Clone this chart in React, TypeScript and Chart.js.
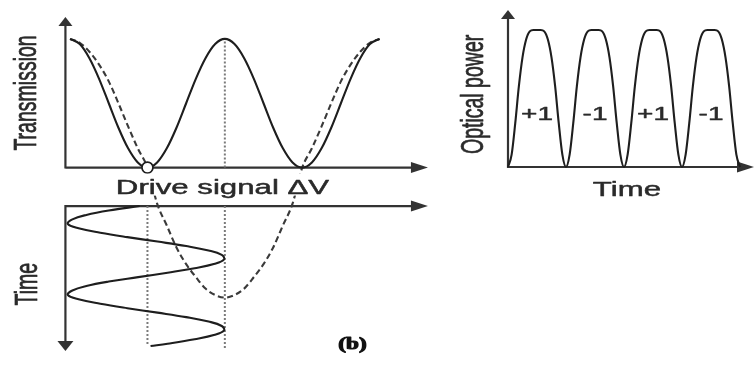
import { useEffect, useRef } from "react";
import { Chart, registerables } from "chart.js";

Chart.register(...registerables);

// ---- Modulator transfer curves versus drive signal ΔV (in units of Vπ) ----
const driveV = [
  0, 0.125, 0.25, 0.375, 0.5, 0.625, 0.75, 0.875, 1, 1.125, 1.25, 1.375, 1.5, 1.625, 1.75, 1.875, 2,
  2.125, 2.25, 2.375, 2.5, 2.625, 2.75, 2.875, 3, 3.125, 3.25, 3.375, 3.5, 3.625, 3.75, 3.875, 4,
];
// Power transmission (solid)
const transmission = [
  1, 0.96, 0.85, 0.69, 0.5, 0.31, 0.15, 0.04, 0, 0.04, 0.15, 0.31, 0.5, 0.69, 0.85, 0.96, 1,
  0.96, 0.85, 0.69, 0.5, 0.31, 0.15, 0.04, 0, 0.04, 0.15, 0.31, 0.5, 0.69, 0.85, 0.96, 1,
];
// Optical field transfer (dashed), changes sign at the transmission nulls
const fieldTransfer = [
  1, 0.97, 0.9, 0.8, 0.67, 0.5, 0.32, 0.15, 0, -0.28, -0.45, -0.62, -0.75, -0.85, -0.94, -0.99, -1.01,
  -0.99, -0.94, -0.85, -0.75, -0.62, -0.45, -0.28, 0, 0.15, 0.32, 0.5, 0.67, 0.8, 0.9, 0.97, 1,
];

// ---- Sinusoidal drive signal versus time (time in drive half-periods) ----
const driveTime = [
  0, 0.125, 0.25, 0.375, 0.5, 0.625, 0.75, 0.875, 1, 1.125, 1.25, 1.375, 1.5, 1.625, 1.75, 1.875, 2,
  2.125, 2.25, 2.375, 2.5, 2.625, 2.75, 2.875, 3, 3.125, 3.25, 3.375, 3.5, 3.625, 3.75, 3.875, 3.94,
];
const driveSwing = [
  0.9, 0.5, 0.21, 0.03, -0.03, 0.11, 0.39, 0.74, 1.13, 1.5, 1.79, 1.96, 1.99, 1.87, 1.61, 1.26, 0.88,
  0.5, 0.21, 0.03, -0.03, 0.11, 0.39, 0.74, 1.13, 1.5, 1.79, 1.96, 1.99, 1.87, 1.61, 1.26, 1.04,
];
const nullBias = 1; // bias point at the transmission null
const swingPeak = 2; // positive drive extreme
const biasGuideEnd = 3.94;
const peakGuideEnd = 4.0;

// ---- Optical power at the output (time in 1/16 bit slot) ----
const pulseTime = [
  0, 1, 2, 3, 4, 5, 6, 7, 8, 9, 10, 11, 12, 13, 14, 15,
  16, 17, 18, 19, 20, 21, 22, 23, 24, 25, 26, 27, 28, 29, 30, 31,
  32, 33, 34, 35, 36, 37, 38, 39, 40, 41, 42, 43, 44, 45, 46, 47,
  48, 49, 50, 51, 52, 53, 54, 55, 56, 57, 58, 59, 60, 61, 62, 63, 64,
];
const opticalPower = [
  0, 0.09, 0.32, 0.59, 0.8, 0.93, 0.99, 1, 1, 1, 0.99, 0.93, 0.8, 0.59, 0.32, 0.09,
  0, 0.09, 0.32, 0.59, 0.8, 0.93, 0.99, 1, 1, 1, 0.99, 0.93, 0.8, 0.59, 0.32, 0.09,
  0, 0.09, 0.32, 0.59, 0.8, 0.93, 0.99, 1, 1, 1, 0.99, 0.93, 0.8, 0.59, 0.32, 0.09,
  0, 0.09, 0.32, 0.59, 0.8, 0.93, 0.99, 1, 1, 1, 0.99, 0.93, 0.8, 0.59, 0.32, 0.09, 0,
];
const symbolTimes = [8, 24, 40, 56];
const symbolLabels = ["+1", "-1", "+1", "-1"];
const symbolLevel = 0.38;

// ---- Styling ----
const INK = "#1e1e1e";
const AXIS = "#333333";
const TEXT = "#2a2a2a";
const GUIDE = "#7a7a7a";
const SANS = '"Liberation Sans", Arial, sans-serif';
const SERIF = '"Liberation Serif", "Times New Roman", serif';
const SX = 1.6; // lettering is drawn wide

type Dir = "up" | "down" | "right";

function arrowHead(ctx: CanvasRenderingContext2D, x: number, y: number, dir: Dir, len: number, half: number) {
  ctx.beginPath();
  if (dir === "up") {
    ctx.moveTo(x, y);
    ctx.lineTo(x - half, y + len);
    ctx.lineTo(x + half, y + len);
  } else if (dir === "down") {
    ctx.moveTo(x, y);
    ctx.lineTo(x - half, y - len);
    ctx.lineTo(x + half, y - len);
  } else {
    ctx.moveTo(x, y);
    ctx.lineTo(x - len, y - half);
    ctx.lineTo(x - len, y + half);
  }
  ctx.closePath();
  ctx.fill();
}

function wideText(
  ctx: CanvasRenderingContext2D,
  text: string,
  x: number,
  y: number,
  size: number,
  opts: {
    rotate?: boolean;
    family?: string;
    weight?: string;
    baseline?: CanvasTextBaseline;
    color?: string;
    heavy?: number;
    sx?: number;
  } = {}
) {
  ctx.save();
  ctx.translate(x, y);
  ctx.scale(opts.sx ?? SX, 1);
  if (opts.rotate) ctx.rotate(-Math.PI / 2);
  ctx.font = `${opts.weight ?? "normal"} ${size}px ${opts.family ?? SANS}`;
  ctx.fillStyle = opts.color ?? TEXT;
  ctx.strokeStyle = opts.color ?? TEXT;
  ctx.lineWidth = opts.heavy ?? 0.45;
  ctx.lineJoin = "round";
  ctx.textAlign = "center";
  ctx.textBaseline = opts.baseline ?? "middle";
  ctx.fillText(text, 0, 0);
  if (ctx.lineWidth > 0) ctx.strokeText(text, 0, 0);
  ctx.restore();
}

// Axis extents in data units
const V_ORIGIN = -0.06;
const V_AXIS_END = 4.625;
const T_AXIS_END = 1.17;
const TIME_AXIS_END = 4.08;
const P_AXIS_END = 1.146;
const S_AXIS_END = 67.86;

const leftFrame = {
  id: "leftFrame",
  beforeDatasetsDraw(chart: any) {
    const { ctx } = chart;
    const { x, y, yt } = chart.scales;
    const ox = x.getPixelForValue(V_ORIGIN);
    const xEnd = x.getPixelForValue(V_AXIS_END);
    const y0 = y.getPixelForValue(0);
    const yTop = y.getPixelForValue(T_AXIS_END);
    const t0 = yt.getPixelForValue(0);
    const tEnd = yt.getPixelForValue(TIME_AXIS_END);
    ctx.save();
    ctx.strokeStyle = AXIS;
    ctx.fillStyle = AXIS;
    ctx.lineWidth = 2.2;
    ctx.beginPath();
    ctx.moveTo(ox, y0 + 1);
    ctx.lineTo(ox, yTop + 8);
    ctx.moveTo(ox, y0);
    ctx.lineTo(xEnd - 14, y0);
    ctx.moveTo(ox, t0);
    ctx.lineTo(xEnd - 14, t0);
    ctx.moveTo(ox, t0 - 1);
    ctx.lineTo(ox, tEnd - 8);
    ctx.stroke();
    arrowHead(ctx, ox, yTop, "up", 9, 7);
    arrowHead(ctx, xEnd, y0, "right", 17, 5.5);
    arrowHead(ctx, xEnd, t0, "right", 17, 5.5);
    arrowHead(ctx, ox, tEnd, "down", 10, 8);
    ctx.restore();
  },
  afterDatasetsDraw(chart: any) {
    const { ctx } = chart;
    const { x, y, yt } = chart.scales;
    const ox = x.getPixelForValue(V_ORIGIN);
    const y0 = y.getPixelForValue(0);
    // x-axis title sits on a white band
    const cx = x.getPixelForValue(1.97);
    const base = y0 + 26;
    ctx.save();
    ctx.font = `normal 19.5px ${SANS}`;
    const w = ctx.measureText("Drive signal ΔV").width * SX;
    ctx.fillStyle = "#ffffff";
    ctx.fillRect(cx - w / 2 - 2, y0 + 6, w + 4, base - y0 - 4);
    ctx.restore();
    wideText(ctx, "Drive signal ΔV", cx, base, 19.5, { baseline: "alphabetic" });
    wideText(ctx, "Transmission", ox - 38, y.getPixelForValue(0.58), 19.5, { rotate: true });
    wideText(ctx, "Time", ox - 37, yt.getPixelForValue(2.2), 19.5, { rotate: true });
    wideText(ctx, "(b)", x.getPixelForValue(3.65), yt.getPixelForValue(3.92), 16, {
      family: SERIF,
      weight: "bold",
      color: "#111",
      heavy: 0,
      sx: 1.45,
    });
  },
};

const rightFrame = {
  id: "rightFrame",
  beforeDatasetsDraw(chart: any) {
    const { ctx } = chart;
    const { x, y } = chart.scales;
    const ox = x.getPixelForValue(0);
    const xEnd = x.getPixelForValue(S_AXIS_END);
    const y0 = y.getPixelForValue(0);
    const yTop = y.getPixelForValue(P_AXIS_END);
    ctx.save();
    ctx.strokeStyle = AXIS;
    ctx.fillStyle = AXIS;
    ctx.lineWidth = 2.2;
    ctx.beginPath();
    ctx.moveTo(ox, y0 + 1);
    ctx.lineTo(ox, yTop + 8);
    ctx.moveTo(ox, y0);
    ctx.lineTo(xEnd - 14, y0);
    ctx.stroke();
    arrowHead(ctx, ox, yTop, "up", 9, 7);
    arrowHead(ctx, xEnd, y0, "right", 17, 5.5);
    ctx.restore();
  },
  afterDatasetsDraw(chart: any) {
    const { ctx } = chart;
    const { x, y } = chart.scales;
    const ox = x.getPixelForValue(0);
    const y0 = y.getPixelForValue(0);
    wideText(ctx, "Optical power", ox - 34, y.getPixelForValue(0.53), 19.5, { rotate: true });
    wideText(ctx, "Time", x.getPixelForValue(32.8), y0 + 29, 19.5, { baseline: "alphabetic" });
    symbolLabels.forEach((s, i) => {
      wideText(ctx, s, x.getPixelForValue(symbolTimes[i]), y.getPixelForValue(symbolLevel), 17.5);
    });
  },
};

const line = (extra: any) => ({
  showLine: true,
  pointRadius: 0,
  pointHoverRadius: 0,
  fill: false,
  ...extra,
});

export default function App() {
  const leftRef = useRef<HTMLCanvasElement>(null);
  const rightRef = useRef<HTMLCanvasElement>(null);

  useEffect(() => {
    const left = new Chart(leftRef.current as HTMLCanvasElement, {
      type: "scatter",
      data: {
        datasets: [
          {
            // null-bias marker
            data: [{ x: nullBias, y: 0 }],
            xAxisID: "x",
            yAxisID: "y",
            showLine: false,
            pointRadius: 5.5,
            pointBackgroundColor: "#ffffff",
            pointBorderColor: INK,
            pointBorderWidth: 1.7,
            order: -1,
          },
          line({
            data: driveV.map((v, i) => ({ x: v, y: transmission[i] })),
            xAxisID: "x",
            yAxisID: "y",
            borderColor: INK,
            borderWidth: 2.1,
            cubicInterpolationMode: "monotone",
          }),
          line({
            data: driveV.map((v, i) => ({ x: v, y: fieldTransfer[i] })),
            xAxisID: "x",
            yAxisID: "y",
            borderColor: "#3a3a3a",
            borderWidth: 2.1,
            borderDash: [6, 3.5],
            cubicInterpolationMode: "monotone",
          }),
          line({
            data: driveTime.map((t, i) => ({ x: driveSwing[i], y: t })),
            xAxisID: "x",
            yAxisID: "yt",
            borderColor: INK,
            borderWidth: 2.1,
            tension: 0.4,
          }),
          line({
            data: [
              { x: swingPeak, y: 0 },
              { x: swingPeak, y: 1 },
            ],
            xAxisID: "x",
            yAxisID: "y",
            borderColor: GUIDE,
            borderWidth: 2,
            borderDash: [2, 2],
          }),
          line({
            data: [
              { x: nullBias, y: 0 },
              { x: nullBias, y: biasGuideEnd },
            ],
            xAxisID: "x",
            yAxisID: "yt",
            borderColor: GUIDE,
            borderWidth: 2,
            borderDash: [2, 2],
          }),
          line({
            data: [
              { x: swingPeak, y: 0 },
              { x: swingPeak, y: peakGuideEnd },
            ],
            xAxisID: "x",
            yAxisID: "yt",
            borderColor: GUIDE,
            borderWidth: 2,
            borderDash: [2, 2],
          }),
        ],
      },
      options: {
        responsive: false,
        maintainAspectRatio: false,
        animation: false,
        events: [],
        layout: { padding: 0 },
        plugins: { legend: { display: false }, tooltip: { enabled: false } },
        scales: {
          x: { type: "linear", display: false, min: -0.8125, max: 4.6875 },
          y: { type: "linear", display: false, min: -1.4776, max: 1.2463 },
          yt: { type: "linear", display: false, min: -5.5946, max: 4.2703, reverse: true },
        },
      },
      plugins: [leftFrame],
    } as any);

    const right = new Chart(rightRef.current as HTMLCanvasElement, {
      type: "scatter",
      data: {
        datasets: [
          line({
            data: pulseTime.map((t, i) => ({ x: t, y: opticalPower[i] })),
            borderColor: INK,
            borderWidth: 2.1,
            cubicInterpolationMode: "monotone",
          }),
        ],
      },
      options: {
        responsive: false,
        maintainAspectRatio: false,
        animation: false,
        events: [],
        layout: { padding: 0 },
        plugins: { legend: { display: false }, tooltip: { enabled: false } },
        scales: {
          x: { type: "linear", display: false, min: -18.759, max: 68.138 },
          y: { type: "linear", display: false, min: -0.2409, max: 1.219 },
        },
      },
      plugins: [rightFrame],
    } as any);

    return () => {
      left.destroy();
      right.destroy();
    };
  }, []);

  return (
    <div style={{ position: "absolute", left: 0, top: 0, width: 755, height: 365, background: "#ffffff" }}>
      <canvas ref={leftRef} width={440} height={365} style={{ position: "absolute", left: 0, top: 0 }} />
      <canvas ref={rightRef} width={315} height={200} style={{ position: "absolute", left: 440, top: 0 }} />
    </div>
  );
}
